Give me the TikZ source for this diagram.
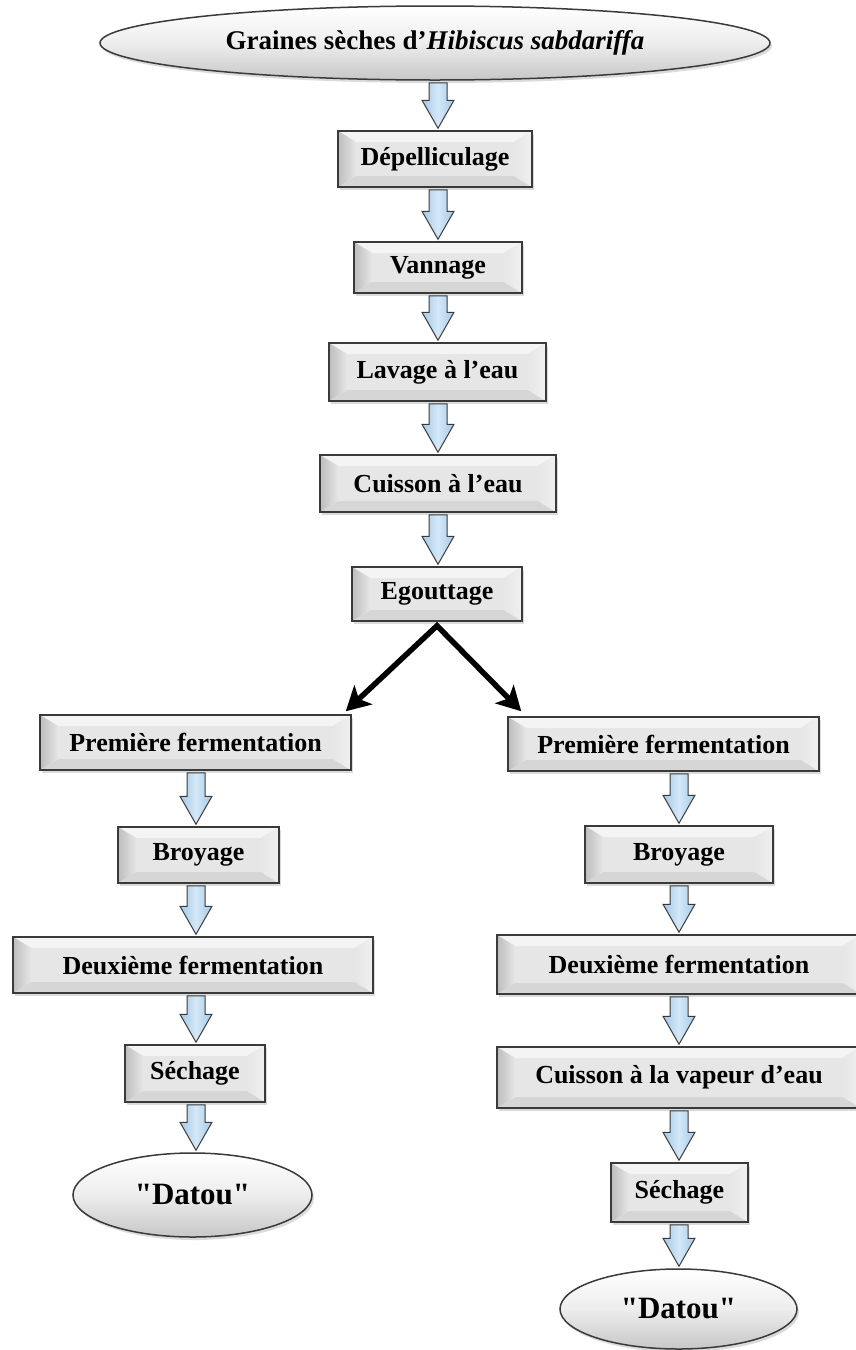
\documentclass[tikz,border=0pt]{standalone}
\usepackage{fontspec}
\setmainfont{Liberation Serif}
\newfontfamily\datoufam{Liberation Serif}
\usetikzlibrary{shapes.geometric,shadows,calc,arrows.meta}
\definecolor{boxface}{HTML}{E6E6E6}
\definecolor{bevL}{HTML}{BDBDBD}
\definecolor{bevT}{HTML}{F4F4F4}
\definecolor{bevR}{HTML}{F0F0F0}
\definecolor{bevB}{HTML}{D6D6D6}
\definecolor{edge}{HTML}{3A3A3A}
\definecolor{arrowblue}{HTML}{D4E8F8}
\definecolor{arrowblueD}{HTML}{A4C8E6}
\tikzset{
  bevelbox/.style={rectangle, draw=edge, line width=1.5pt, fill=boxface, inner sep=0pt,
    font=\bfseries\fontsize{26}{30}\selectfont,
    drop shadow={shadow xshift=2pt, shadow yshift=-3pt, opacity=0.28},
    path picture={
      \coordinate (bvnw) at (path picture bounding box.north west);
      \coordinate (bvne) at (path picture bounding box.north east);
      \coordinate (bvsw) at (path picture bounding box.south west);
      \coordinate (bvse) at (path picture bounding box.south east);
      \fill[bevT] (bvnw) -- (bvne) -- ([shift={(-18pt,-11pt)}]bvne) -- ([shift={(18pt,-11pt)}]bvnw) -- cycle;
      \fill[bevB] (bvsw) -- (bvse) -- ([shift={(-18pt,11pt)}]bvse) -- ([shift={(18pt,11pt)}]bvsw) -- cycle;
      \fill[left color=bevL, right color=boxface] (bvnw) -- (bvsw) -- ([shift={(18pt,11pt)}]bvsw) -- ([shift={(18pt,-11pt)}]bvnw) -- cycle;
      \fill[left color=boxface, right color=bevR] (bvne) -- (bvse) -- ([shift={(-18pt,11pt)}]bvse) -- ([shift={(-18pt,-11pt)}]bvne) -- cycle;
    }},
  ovalnode/.style={ellipse, draw=edge, line width=1.5pt, inner sep=0pt,
    top color=white, bottom color=black!22, middle color=black!7,
    drop shadow={shadow xshift=2pt, shadow yshift=-3pt, opacity=0.28}},
  blockarrow/.style={draw=edge, line width=1pt, line join=miter,
    left color=arrowblueD, right color=arrowblueD, middle color=arrowblue,
    to path={let \p1=(\tikztostart), \p2=(\tikztotarget) in
      (\x1-9pt,\y1-2pt) -- (\x1+9pt,\y1-2pt) -- (\x1+9pt,\y2+30pt) -- (\x1+16pt,\y2+30pt)
      -- (\x1,\y2+2pt) -- (\x1-16pt,\y2+30pt) -- (\x1-9pt,\y2+30pt) -- cycle}},
  splitarrow/.style={line width=5.5pt, line join=miter,
    {Stealth[length=24pt,width=26pt,inset=6pt]}-{Stealth[length=24pt,width=26pt,inset=6pt]}},
  datoufont/.style={font=\datoufam\bfseries\fontsize{31}{36}\selectfont}
}
\begin{document}
\begin{tikzpicture}[x=1pt,y=-1pt]
\useasboundingbox (0,0) rectangle (856,1350);
\fill[white] (0,0) rectangle (856,1350);
\coordinate (cC) at (438,0);
\coordinate (cL) at (196,0);
\coordinate (cR) at (679,0);

\node[ovalnode, minimum width=670pt, minimum height=74pt, font=\bfseries\fontsize{27}{32}\selectfont] (src) at (435,43) {Graines sèches d’\textit{Hibiscus sabdariffa}};
\node[bevelbox, minimum width=194pt, minimum height=56pt] (dep) at (435,159) {Dépelliculage};
\node[bevelbox, minimum width=168pt, minimum height=51pt] (van) at (438,267.5) {Vannage};
\node[bevelbox, minimum width=217pt, minimum height=58pt] (lav) at (437.5,372) {Lavage à l’eau};
\node[bevelbox, minimum width=236pt, minimum height=57pt] (cui) at (438,483.5) {Cuisson à l’eau};
\node[bevelbox, minimum width=170pt, minimum height=54pt] (ego) at (437,594) {Egouttage};

\node[bevelbox, minimum width=311pt, minimum height=55pt] (pfL) at (195.5,742.5) {Première fermentation};
\node[bevelbox, minimum width=161pt, minimum height=56pt] (brL) at (198.5,855) {Broyage};
\node[bevelbox, minimum width=360pt, minimum height=56pt] (dfL) at (193,965) {Deuxième fermentation};
\node[bevelbox, minimum width=140pt, minimum height=57pt] (seL) at (195,1073.5) {Séchage};
\node[ovalnode, datoufont, minimum width=239pt, minimum height=84pt] (daL) at (192.5,1195) {"Datou"};

\node[bevelbox, minimum width=311pt, minimum height=54pt] (pfR) at (663.5,744) {Première fermentation};
\node[bevelbox, minimum width=188pt, minimum height=57pt] (brR) at (679,854.5) {Broyage};
\node[bevelbox, minimum width=364pt, minimum height=59pt] (dfR) at (679,964.5) {Deuxième fermentation};
\node[bevelbox, minimum width=364pt, minimum height=61pt] (cvR) at (679,1077.5) {Cuisson à la vapeur d’eau};
\node[bevelbox, minimum width=137pt, minimum height=59pt] (seR) at (679.5,1192.5) {Séchage};
\node[ovalnode, datoufont, minimum width=237pt, minimum height=80pt] (daR) at (678.5,1309) {"Datou"};

\draw[blockarrow] (src.south -| cC) to (dep.north -| cC);
\draw[blockarrow] (dep.south -| cC) to (van.north -| cC);
\draw[blockarrow] (van.south -| cC) to (lav.north -| cC);
\draw[blockarrow] (lav.south -| cC) to (cui.north -| cC);
\draw[blockarrow] (cui.south -| cC) to (ego.north -| cC);

\draw[splitarrow] ([xshift=-6pt,yshift=3pt]pfL.north east) -- ([yshift=-4pt]ego.south) -- ([xshift=14pt,yshift=5pt]pfR.north west);

\draw[blockarrow] (pfL.south -| cL) to (brL.north -| cL);
\draw[blockarrow] (brL.south -| cL) to (dfL.north -| cL);
\draw[blockarrow] (dfL.south -| cL) to (seL.north -| cL);
\draw[blockarrow] (seL.south -| cL) to (daL.north -| cL);

\draw[blockarrow] (pfR.south -| cR) to (brR.north -| cR);
\draw[blockarrow] (brR.south -| cR) to (dfR.north -| cR);
\draw[blockarrow] (dfR.south -| cR) to (cvR.north -| cR);
\draw[blockarrow] (cvR.south -| cR) to (seR.north -| cR);
\draw[blockarrow] (seR.south -| cR) to (daR.north -| cR);
\end{tikzpicture}
\end{document}
